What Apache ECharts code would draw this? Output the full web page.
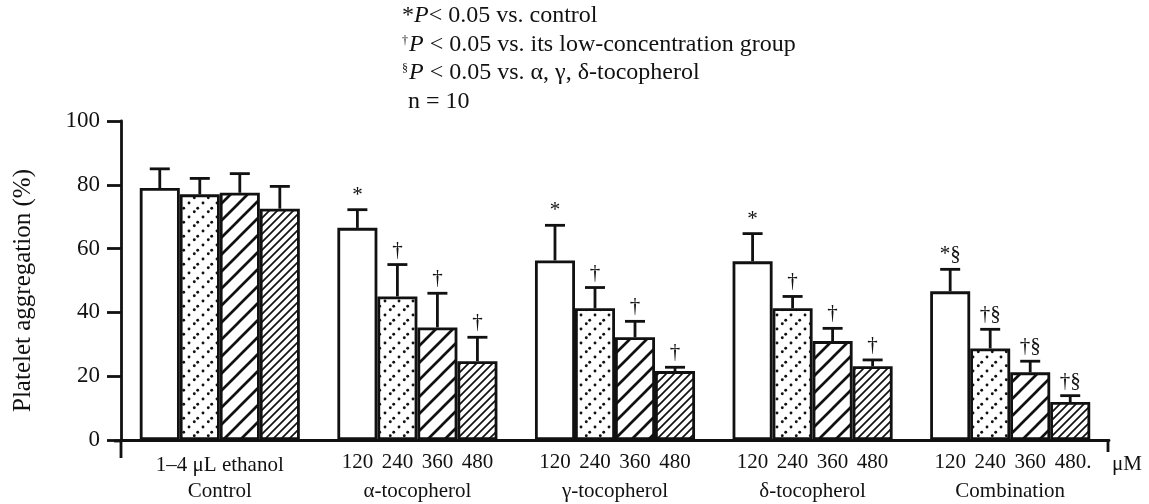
<!DOCTYPE html>
<html>
<head>
<meta charset="utf-8">
<script src="https://cdn.jsdelivr.net/npm/echarts@6/dist/echarts.min.js"></script>
<style>
  html, body { margin: 0; padding: 0; background: #fff; }
  #chart { width: 1149px; height: 504px; }
</style>
</head>
<body>
<div id="chart"></div>
<script>
// 各组名称与剂量标签
const categories = ['Control', 'α-tocopherol', 'γ-tocopherol', 'δ-tocopherol', 'Combination'];
const doseLabels = ['120', '240', '360', '480'];
const lastDoseLabels = ['120', '240', '360', '480.'];
const yTicks = [0, 20, 40, 60, 80, 100];

// 四个剂量的均值（%）
const dose1 = [79, 66.5, 56.3, 56, 46.6];
const dose2 = [77, 45, 41.3, 41.3, 28.7];
const dose3 = [77.5, 35.3, 32.2, 31, 21.2];
const dose4 = [72.5, 24.7, 21.6, 23.1, 11.9];

// 误差（向上）
const err1 = [6, 5.7, 11, 8.7, 6.9];
const err2 = [5, 10, 6.5, 3.7, 6];
const err3 = [6, 10.7, 5, 4, 3.5];
const err4 = [7, 7.5, 1.2, 2, 2];

// 显著性标记
const sig1 = ['', '*', '*', '*', '*§'];
const sig2 = ['', '†', '†', '†', '†§'];
const sig3 = ['', '†', '†', '†', '†§'];
const sig4 = ['', '†', '†', '†', '†§'];

const values = [dose1, dose2, dose3, dose4];
const errors = [err1, err2, err3, err4];
const sigs = [sig1, sig2, sig3, sig4];

const FONT = '"Liberation Serif", "DejaVu Serif", serif';
const INK = '#111';
const GAP = 0.19;

// 填充图案
function makePattern(kind) {
  const s = kind === 'dense' ? 8 : (kind === 'dots' ? 14 : 17);
  const c = document.createElement('canvas');
  c.width = s; c.height = s;
  const ctx = c.getContext('2d');
  ctx.fillStyle = '#fff';
  ctx.fillRect(0, 0, s, s);
  ctx.strokeStyle = INK;
  ctx.fillStyle = INK;
  if (kind === 'dots') {
    const pts = [[1.7, s - 1.7], [s / 2, s / 2], [s - 1.7, 1.7]];
    pts.forEach(p => {
      ctx.beginPath();
      ctx.arc(p[0], p[1], 1.45, 0, Math.PI * 2);
      ctx.fill();
    });
  } else {
    ctx.lineWidth = kind === 'dense' ? 1.7 : 2.7;
    ctx.beginPath();
    ctx.moveTo(0, s); ctx.lineTo(s, 0);
    ctx.moveTo(-s / 2, s / 2); ctx.lineTo(s / 2, -s / 2);
    ctx.moveTo(s / 2, s * 1.5); ctx.lineTo(s * 1.5, s / 2);
    ctx.stroke();
  }
  return { image: c, repeat: 'repeat' };
}

const fills = ['#fff', makePattern('dots'), makePattern('wide'), makePattern('dense')];

const chart = echarts.init(document.getElementById('chart'));

const barSeries = values.map((v, s) => ({
  type: 'bar',
  name: 'dose' + (s + 1),
  data: v,
  barGap: '0%',
  barCategoryGap: (GAP * 100) + '%',
  itemStyle: { color: fills[s], borderColor: INK, borderWidth: 2.8 },
  z: 2
}));

// 误差线、显著性标记、剂量标签
const extraSeries = values.map((v, s) => ({
  type: 'custom',
  clip: false,
  z: 3,
  data: v.map((val, i) => [i, val]),
  encode: { x: 0, y: 1 },
  renderItem: function (params, api) {
    const i = params.dataIndex;
    const val = values[s][i];
    const top = api.coord([i, val]);
    const errTop = api.coord([i, val + errors[s][i]]);
    const base = api.coord([i, 0]);
    const band = api.size([1, 0])[0];
    const bw = band * (1 - GAP) / 4;
    const x = top[0] - 2 * bw + (s + 0.5) * bw;
    const children = [
      { type: 'line', shape: { x1: x, y1: top[1], x2: x, y2: errTop[1] },
        style: { stroke: INK, lineWidth: 2.8 } },
      { type: 'line', shape: { x1: x - 10, y1: errTop[1], x2: x + 10, y2: errTop[1] },
        style: { stroke: INK, lineWidth: 2.8 } }
    ];
    if (sigs[s][i]) {
      children.push({ type: 'text', x: x, y: errTop[1] - 4,
        style: { text: sigs[s][i], font: '21px ' + FONT, fill: INK,
                 align: 'center', verticalAlign: 'bottom' } });
    }
    if (i > 0) {
      const lbl = i === categories.length - 1 ? lastDoseLabels[s] : doseLabels[s];
      children.push({ type: 'text', x: x + (lbl.length > 3 ? 3 : 0), y: base[1] + 12,
        style: { text: lbl, font: '21px ' + FONT, fill: INK,
                 align: 'center', verticalAlign: 'top' } });
    }
    return { type: 'group', children: children };
  }
}));

const legendLines = [
  '{t|*}{i|P}{t|< 0.05 vs. control}',
  '{s|†}{i|P}{t| < 0.05 vs. its low-concentration group}',
  '{s|§}{i|P}{t| < 0.05 vs. α, γ, δ-tocopherol}',
  '{t| n = 10}'
];

const option = {
  animation: false,
  backgroundColor: '#fff',
  grid: { left: 121, right: 40, top: 121, bottom: 63 },
  xAxis: {
    type: 'category',
    data: categories,
    boundaryGap: true,
    axisLine: { lineStyle: { color: INK, width: 2.8 } },
    axisTick: { show: false },
    axisLabel: {
      color: INK,
      fontFamily: FONT,
      fontSize: 21,
      lineHeight: 26,
      margin: 12,
      formatter: (v, i) => i === 0 ? '1–4 μL ethanol\n' + v : ' \n' + v
    }
  },
  yAxis: {
    type: 'value',
    min: 0,
    max: 100,
    interval: 20,
    name: 'Platelet aggregation (%)',
    nameLocation: 'middle',
    nameGap: 85,
    nameTextStyle: { color: INK, fontFamily: FONT, fontSize: 25, padding: [0, 20, 0, 0] },
    axisLine: { show: true, lineStyle: { color: INK, width: 2.8 } },
    axisTick: { show: true, length: 14, lineStyle: { color: INK, width: 2.8 } },
    axisLabel: {
      color: INK, fontFamily: FONT, fontSize: 23, margin: 21,
      formatter: v => yTicks.indexOf(v) >= 0 ? String(v) : ''
    },
    splitLine: { show: false }
  },
  graphic: [
    { type: 'line', shape: { x1: 121, y1: 441, x2: 121, y2: 458 }, style: { stroke: INK, lineWidth: 2.8 } },
    { type: 'line', shape: { x1: 114, y1: 441, x2: 121, y2: 441 }, style: { stroke: INK, lineWidth: 2.8 } },
    { type: 'line', shape: { x1: 1108, y1: 441, x2: 1108, y2: 452 }, style: { stroke: INK, lineWidth: 2.8 } },
    { type: 'text', left: 1112, top: 454,
      style: { text: 'μM', font: '21px ' + FONT, fill: INK } },
    ...legendLines.map((t, k) => ({
      type: 'text', left: 402, top: 4 + k * 28.5,
      style: {
        text: t,
        fill: INK,
        rich: {
          t: { fontFamily: FONT, fontSize: 24, color: INK },
          i: { fontFamily: FONT, fontSize: 24, fontStyle: 'italic', color: INK },
          s: { fontFamily: FONT, fontSize: 12, color: INK, padding: [0, 1, 8, 0] }
        }
      }
    }))
  ],
  series: [...barSeries, ...extraSeries]
};

chart.setOption(option);
</script>
</body>
</html>
